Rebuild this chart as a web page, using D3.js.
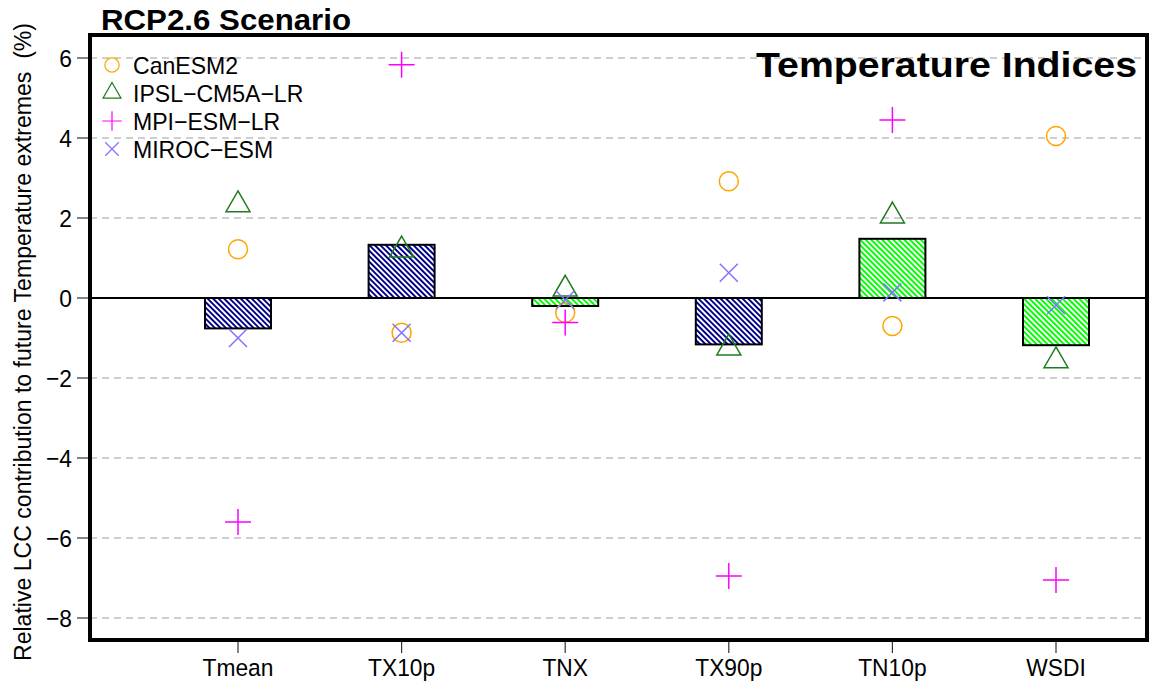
<!DOCTYPE html>
<html>
<head>
<meta charset="utf-8">
<script src="https://cdn.jsdelivr.net/npm/d3@7"></script>
<style>
	body { margin: 0; background: #fff; }
	svg { display: block; font-family: "Liberation Sans", Arial, sans-serif; }
</style>
</head>
<body>
<div id="chart"></div>
<script>

// categories and values
const categories = ['Tmean', 'TX10p', 'TNX', 'TX90p', 'TN10p', 'WSDI'];
const lccMean = [-0.76, 1.33, -0.2, -1.16, 1.48, -1.18];
const barGroup = ['blue', 'blue', 'green', 'blue', 'green', 'green'];

const canESM2 = [1.22, -0.87, -0.37, 2.92, -0.7, 4.05];
const ipslCM5ALR = [2.33, 1.2, 0.22, -1.25, 2.05, -1.57];
const mpiESMLR = [-5.6, 5.83, -0.61, -6.95, 4.45, -7.05];
const mirocESM = [-1.0, -0.87, -0.05, 0.63, 0.14, -0.18];

const modelNames = ['CanESM2', 'IPSL\u2212CM5A\u2212LR', 'MPI\u2212ESM\u2212LR', 'MIROC\u2212ESM'];
const yTicks = [-8, -6, -4, -2, 0, 2, 4, 6];

const width = 1151, height = 685;
const box = {left: 90, right: 1147, top: 35, bottom: 640};

const svg = d3.select('#chart')
	.append('svg')
		.attr('width', width)
		.attr('height', height);

// squeeze text a little sideways, the original font is narrower
function condense(sel, k) {
	sel.each(function() {
		const len = this.getComputedTextLength();
		d3.select(this)
			.attr('textLength', len * k)
			.attr('lengthAdjust', 'spacingAndGlyphs');
	});
}

// hatch fills
const defs = svg.append('defs');
const hatchColors = {blue: '#00008b', green: '#00ff00'};
Object.keys(hatchColors).forEach(function(k) {
	const p = defs.append('pattern')
		.attr('id', 'hatch-' + k)
		.attr('patternUnits', 'userSpaceOnUse')
		.attr('width', 3.9)
		.attr('height', 3.9)
		.attr('patternTransform', 'rotate(45)');
	p.append('rect').attr('width', 3.9).attr('height', 3.9).attr('fill', '#fff');
	p.append('line')
		.attr('x1', 0).attr('x2', 3.9)
		.attr('y1', 1.95).attr('y2', 1.95)
		.attr('stroke', hatchColors[k])
		.attr('stroke-width', 2);
});

const x = d3.scalePoint()
	.domain(categories)
	.range([238, 1056]);

const y = d3.scaleLinear()
	.domain([-8.55, 6.575])
	.range([box.bottom, box.top]);

// grid
svg.append('g')
	.selectAll('line')
	.data(yTicks.filter(function(d) { return d !== 0; }))
	.enter().append('line')
		.attr('x1', box.left).attr('x2', box.right)
		.attr('y1', function(d) { return y(d); })
		.attr('y2', function(d) { return y(d); })
		.attr('stroke', '#bebebe')
		.attr('stroke-width', 1.5)
		.attr('stroke-dasharray', '7,5');

// bars
const barW = 66;
svg.append('g')
	.selectAll('rect')
	.data(categories)
	.enter().append('rect')
		.attr('x', function(d) { return x(d) - barW / 2; })
		.attr('y', function(d, i) { return y(Math.max(0, lccMean[i])); })
		.attr('width', barW)
		.attr('height', function(d, i) { return Math.abs(y(lccMean[i]) - y(0)); })
		.attr('fill', function(d, i) { return 'url(#hatch-' + barGroup[i] + ')'; })
		.attr('stroke', '#000')
		.attr('stroke-width', 2);

// zero line
svg.append('line')
	.attr('x1', box.left).attr('x2', box.right)
	.attr('y1', y(0)).attr('y2', y(0))
	.attr('stroke', '#000')
	.attr('stroke-width', 2);

// marker shapes, scale s
function circlePath(s) {
	const r = 9.5 * s;
	return `M${r},0A${r},${r} 0 1,1 ${-r},0A${r},${r} 0 1,1 ${r},0Z`;
}
function trianglePath(s) {
	const hx = 12 * s, up = 13.9 * s, dn = 6.9 * s;
	return `M0,${-up}L${hx},${dn}L${-hx},${dn}Z`;
}
function plusPath(s) {
	const h = 13 * s;
	return `M${-h},0H${h}M0,${-h}V${h}`;
}
function crossPath(s) {
	const h = 9 * s;
	return `M${-h},${-h}L${h},${h}M${-h},${h}L${h},${-h}`;
}

const models = [
	{values: canESM2, shape: circlePath, color: '#ffa500'},
	{values: ipslCM5ALR, shape: trianglePath, color: '#1e7b1e'},
	{values: mpiESMLR, shape: plusPath, color: '#ff00ff'},
	{values: mirocESM, shape: crossPath, color: '#8470ff'}
];

models.forEach(function(m) {
	svg.append('g')
		.selectAll('path')
		.data(m.values)
		.enter().append('path')
			.attr('transform', function(d, i) { return `translate(${x(categories[i])},${y(d)})`; })
			.attr('d', m.shape(1))
			.attr('fill', 'none')
			.attr('stroke', m.color)
			.attr('stroke-width', 1.5);
});

// axes
const yAxis = svg.append('g');
yAxis.selectAll('line')
	.data(yTicks)
	.enter().append('line')
		.attr('x1', 77).attr('x2', box.left)
		.attr('y1', function(d) { return y(d); })
		.attr('y2', function(d) { return y(d); })
		.attr('stroke', '#333')
		.attr('stroke-width', 1.2);
yAxis.selectAll('text')
	.data(yTicks)
	.enter().append('text')
		.attr('x', 72)
		.attr('y', function(d) { return y(d); })
		.attr('dy', '0.36em')
		.attr('text-anchor', 'end')
		.attr('font-size', 24.5)
		.text(function(d) { return d < 0 ? '\u2212' + Math.abs(d) : d; })
		.call(condense, 0.93);

const xAxis = svg.append('g');
xAxis.selectAll('line')
	.data(categories)
	.enter().append('line')
		.attr('x1', function(d) { return x(d); })
		.attr('x2', function(d) { return x(d); })
		.attr('y1', box.bottom).attr('y2', 653)
		.attr('stroke', '#333')
		.attr('stroke-width', 1.2);
xAxis.selectAll('text')
	.data(categories)
	.enter().append('text')
		.attr('x', function(d) { return x(d); })
		.attr('y', 676)
		.attr('text-anchor', 'middle')
		.attr('font-size', 24.5)
		.text(function(d) { return d; })
		.call(condense, 0.93);

// plot frame
svg.append('rect')
	.attr('x', box.left).attr('y', box.top)
	.attr('width', box.right - box.left)
	.attr('height', box.bottom - box.top)
	.attr('fill', 'none')
	.attr('stroke', '#000')
	.attr('stroke-width', 4);

// y label
svg.append('text')
	.attr('transform', 'translate(31,342) rotate(-90)')
	.attr('text-anchor', 'middle')
	.attr('font-size', 23)
	.attr('textLength', 638)
	.attr('lengthAdjust', 'spacingAndGlyphs')
	.style('white-space', 'pre')
	.text('Relative LCC contribution to future Temperature extremes  (%)');

// titles
svg.append('text')
	.attr('x', 101).attr('y', 29.5)
	.attr('font-size', 30)
	.attr('font-weight', 'bold')
	.attr('textLength', 250)
	.attr('lengthAdjust', 'spacingAndGlyphs')
	.text('RCP2.6 Scenario');

svg.append('text')
	.attr('x', 756).attr('y', 77)
	.attr('font-size', 34.5)
	.attr('font-weight', 'bold')
	.attr('textLength', 381)
	.attr('lengthAdjust', 'spacingAndGlyphs')
	.text('Temperature Indices');

// legend
const legend = svg.append('g');
models.forEach(function(m, i) {
	const ly = 65 + i * 28;
	legend.append('path')
		.attr('transform', `translate(112,${ly})`)
		.attr('d', m.shape(0.75))
		.attr('fill', 'none')
		.attr('stroke', m.color)
		.attr('stroke-width', 1.2);
	legend.append('text')
		.attr('x', 133).attr('y', ly)
		.attr('dy', '0.36em')
		.attr('font-size', 24)
		.text(modelNames[i])
		.call(condense, 0.96);
});

</script>
</body>
</html>
